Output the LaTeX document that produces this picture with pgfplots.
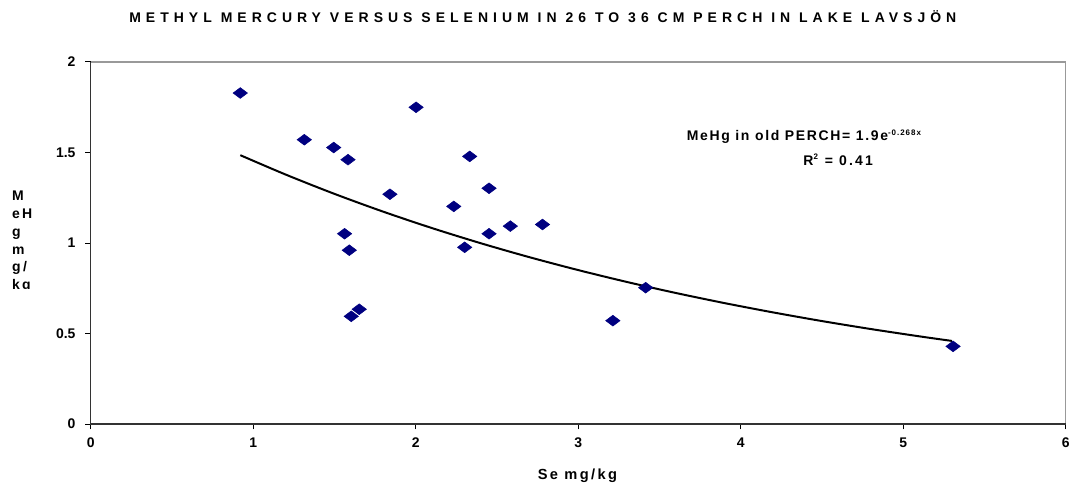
\documentclass[border=0pt]{standalone}
\usepackage{pgfplots}
\pgfplotsset{compat=1.18}
\usepackage{fontspec}
\setmainfont{Liberation Sans}
\newfontfamily\spaced[LetterSpace=36]{Liberation Sans}
\newfontfamily\spacedb[LetterSpace=16]{Liberation Sans}
\newfontfamily\spacedc[LetterSpace=12]{Liberation Sans}
\definecolor{navy}{HTML}{000080}
\begin{document}
\begin{tikzpicture}
\begin{axis}[
  name=ax,
  scale only axis,
  width=732.75pt, height=272.25pt,
  xmin=0, xmax=6, ymin=0, ymax=2,
  xtick={0,1,2,3,4,5,6}, ytick={0,0.5,1,1.5,2},
  tick align=outside, tick pos=left,
  major tick length=4pt,
  axis line style={draw=none},
  tick style={black, line width=0.6pt},
  ticklabel style={font=\fontsize{10.5}{12}\selectfont\bfseries},
  /pgf/number format/assume math mode=true,
  yticklabel style={xshift=-4pt},
  xticklabel style={yshift=-3pt},
  clip=false,
]
\draw[gray!80, line width=1pt] (rel axis cs:0,1) -- (rel axis cs:1,1) -- (rel axis cs:1,0);
\draw[black!80, line width=1pt] (rel axis cs:0,1) -- (rel axis cs:0,0) -- (rel axis cs:1,0);
\addplot[black, line width=1.5pt, smooth] coordinates {
(0.92,1.4848) (1.2,1.3775) (1.5,1.2710) (1.8,1.1728) (2.1,1.0822) (2.4,0.9986)
(2.7,0.9214) (3.0,0.8503) (3.3,0.7846) (3.6,0.7240) (3.9,0.6681) (4.2,0.6165)
(4.5,0.5688) (4.8,0.5249) (5.1,0.4844) (5.3,0.4591)};
\addplot[only marks, mark=diamond*, mark size=5.4pt, mark options={rotate=90, fill=navy, draw=navy}] coordinates {
(0.920,1.828) (1.314,1.570) (1.495,1.527) (1.583,1.460) (2.002,1.749)
(2.332,1.478) (1.841,1.269) (2.234,1.202) (2.451,1.302) (1.562,1.051)
(1.591,0.960) (2.301,0.976) (2.451,1.051) (2.582,1.093) (2.780,1.102)
(1.603,0.595) (1.652,0.634) (3.213,0.571) (3.415,0.753) (5.307,0.429)};
\coordinate (sw) at (rel axis cs:0,0);
\coordinate (ne) at (rel axis cs:1,1);
\end{axis}
% bounding box
\path (sw) ++(-68.25pt,-48pt) coordinate (bbsw);
\path (ne) ++(4.5pt,46.5pt) coordinate (bbne);
\path[draw=none] (bbsw) rectangle (bbne);
% title
\node[anchor=center, font=\fontsize{10.5}{12}\selectfont\bfseries\spaced] at ([xshift=408pt,yshift=-12.75pt]bbsw|-bbne) {METHYL MERCURY VERSUS SELENIUM IN 26 TO 36 CM PERCH IN LAKE LAVSJÖN};
% x label
\node[anchor=center, font=\fontsize{11}{13}\selectfont\bfseries\spacedb] at ([xshift=434pt,yshift=9.5pt]bbsw) {Se mg/kg};
% equation
\node[anchor=west, inner sep=0pt, font=\fontsize{10.5}{12}\selectfont\bfseries\spacedc] at ([xshift=516pt,yshift=-102.5pt]bbsw|-bbne) {MeHg in old PERCH= 1.9e\textsuperscript{\fontsize{6}{7}\selectfont -0.268x}};
\node[anchor=center, font=\fontsize{10.5}{12}\selectfont\bfseries\spacedb] at ([xshift=630pt,yshift=-120pt]bbsw|-bbne) {R\textsuperscript{\fontsize{6}{7}\selectfont 2} = 0.41};
% y label, clipped
\begin{scope}
\clip ([xshift=0pt,yshift=-137pt]bbsw|-bbne) rectangle ([xshift=40pt,yshift=-216.5pt]bbsw|-bbne);
\node[anchor=north west, align=left, inner sep=0pt, font=\fontsize{10.5}{13.5}\selectfont\bfseries\spacedb] at ([xshift=9pt,yshift=-143pt]bbsw|-bbne) {M\\eH\\g\\m\\g/\\kg};
\end{scope}
\end{tikzpicture}
\end{document}
